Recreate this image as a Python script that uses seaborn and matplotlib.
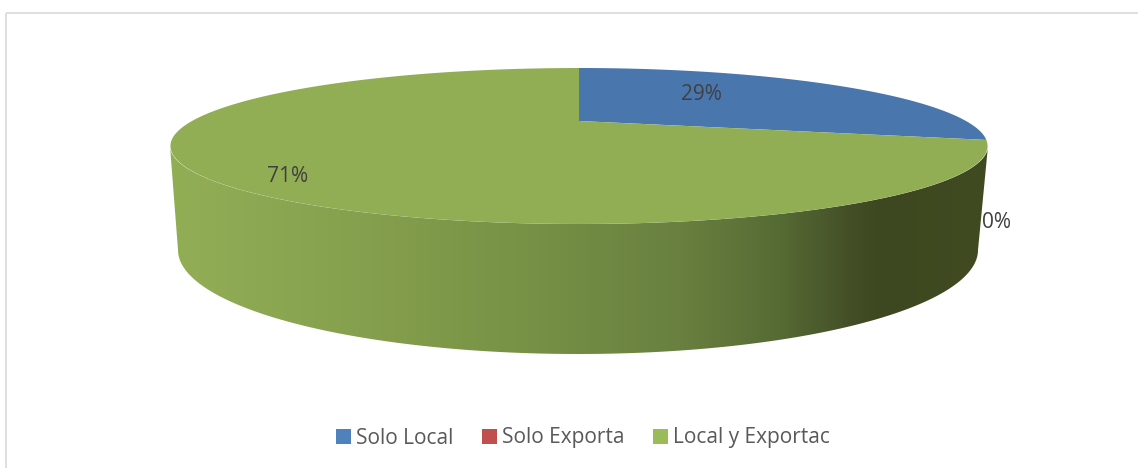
import numpy as np
import matplotlib
matplotlib.use('Agg')
import matplotlib.pyplot as plt
import seaborn as sns
from matplotlib.colors import LinearSegmentedColormap
from matplotlib.patches import Polygon, Rectangle

# Data
categories = ['Solo Local', 'Solo Exporta', 'Local y Exportac']
shares = [29, 0, 71]

top_colors = ['#4A76AE', '#BC4F4B', '#92AE55']
legend_colors = ['#4F81BD', '#C0504D', '#9BBB59']

sns.set_theme(style='white')
plt.rcParams['font.family'] = ['Open Sans', 'DejaVu Sans']

fig = plt.figure(figsize=(11.38, 4.68), dpi=100)
ax = fig.add_axes([0, 0, 1, 1])

wedges, _, pct_texts = ax.pie(shares, startangle=90, counterclock=False, autopct='%.0f%%')


# Perspective view of the unit disc, result in pixels
def project(x, y):
    d = 1 + 0.3205 * y
    return 579 + 387 * x / d, (121 - 31.2 * y) / d


# Side wall: front of the top rim down to a slightly smaller lower rim
t = np.linspace(0, np.pi, 200)
top_x, top_y = 579 + 409 * np.cos(t), 146 + 78 * np.sin(t)
low_x, low_y = 578 + 400 * np.cos(t[::-1]), 250 + 104 * np.sin(t[::-1])
wall = Polygon(np.column_stack([np.r_[top_x, low_x], np.r_[top_y, low_y]]),
               closed=True, transform=ax.transData, fc='none', ec='none')
ax.add_patch(wall)

x0, x1 = 170, 990
stops = [(170, '#92AE55'), (300, '#8AA551'), (440, '#7F994A'), (560, '#748E44'),
         (680, '#698040'), (780, '#566B34'), (850, '#454F27'), (880, '#3D4820'),
         (990, '#404B22')]
cmap = LinearSegmentedColormap.from_list(
    'wall', [((p - x0) / (x1 - x0), c) for p, c in stops])
img = ax.imshow(np.linspace(0, 1, 512)[None, :], cmap=cmap, aspect='auto',
                extent=(x0, x1, 360, 140), zorder=1)
img.set_clip_path(wall)

# Top face, one polygon per wedge from the angles the pie computed
for w, color in zip(wedges, top_colors):
    a = np.radians(np.linspace(w.theta1, w.theta2, 300))
    px, py = project(np.r_[0, np.cos(a)], np.r_[0, np.sin(a)])
    ax.fill(px, py, color=color, lw=0, zorder=2)
    w.remove()

# Percent labels
pct_pos = [(701, 95), (997, 223), (288, 176)]
for txt, pos in zip(pct_texts, pct_pos):
    txt.set_position(pos)
    txt.set_color('#404040')
    txt.set_fontsize(15)
    txt.set_ha('center')
    txt.set_va('center')
    txt.set_zorder(5)

# Chart border, right and bottom run off the picture
ax.add_patch(Rectangle((6.5, 12.5), 1300, 600, fc='none', ec='#D9D9D9', lw=1.2, zorder=6))

handles = [Rectangle((0, 0), 1, 1, fc=c, ec='none') for c in legend_colors]
ax.legend(handles, categories, ncol=3, frameon=False, loc='center',
          bbox_to_anchor=(583 / 1138, 1 - 438 / 468), fontsize=15,
          labelcolor='#595959', handlelength=0.72, handleheight=0.72,
          handletextpad=0.24, columnspacing=1.38)

ax.set_aspect('auto')
ax.set_xlim(0, 1138)
ax.set_ylim(468, 0)
ax.axis('off')

fig.savefig('out.png', dpi=100, facecolor='white')
plt.close(fig)
